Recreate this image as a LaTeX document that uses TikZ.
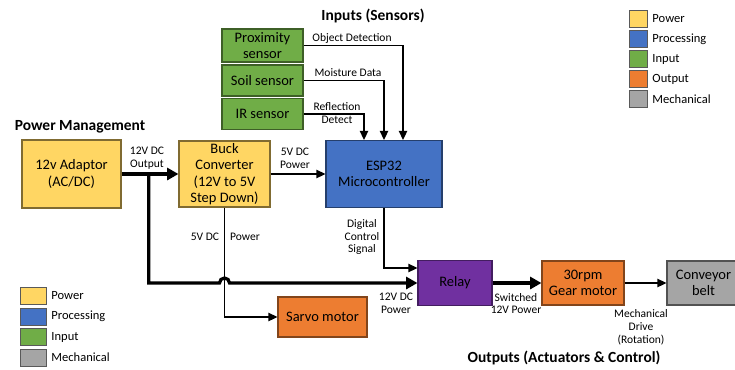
\documentclass[tikz,border=0pt]{standalone}
\usepackage{fontspec}
\setmainfont{Carlito}
\usetikzlibrary{arrows.meta,positioning,calc}

\definecolor{pwrcol}{HTML}{FFD663}
\definecolor{proccol}{HTML}{4472C4}
\definecolor{incol}{HTML}{70AD47}
\definecolor{outcol}{HTML}{ED7D31}
\definecolor{mechcol}{HTML}{A5A5A5}
\definecolor{relaycol}{HTML}{7030A0}

\begin{document}
\begin{tikzpicture}[
    x=0.025cm, y=-0.025cm,
    box/.style={draw, line width=0.8pt, align=center, inner sep=1pt, font=\fontsize{10.3}{11.6}\selectfont},
    power/.style={box, fill=pwrcol, draw=pwrcol!50!black},
    proc/.style={box, fill=proccol, draw=proccol!55!black},
    sensor/.style={box, fill=incol, draw=incol!55!black},
    actuator/.style={box, fill=outcol, draw=outcol!55!black},
    mech/.style={box, fill=mechcol, draw=mechcol!50!black},
    relaybox/.style={box, fill=relaycol, draw=relaycol!60!black},
    arrow/.style={-{Triangle[length=6.5pt, width=6pt]}, line width=1.1pt},
    bigarrow/.style={-{Triangle[length=8pt, width=8.5pt]}, line width=2.3pt},
    lbl/.style={align=center, inner sep=0pt, font=\fontsize{8.2}{9.2}\selectfont},
    heading/.style={inner sep=0pt, font=\fontsize{11}{13}\selectfont\bfseries},
    key/.style={draw=black!65, line width=0.7pt, minimum height=0.425cm, inner sep=0pt,
        label={[font=\fontsize{8.9}{10}\selectfont]right:#1}}
]
\useasboundingbox (0,0) rectangle (735,369);

% Headings
\node[heading] (hin) at (373,16) {Inputs (Sensors)};
\node[heading] (hpwr) at (80,127) {Power Management};
\node[heading] (hout) at (564,358) {Outputs (Actuators \& Control)};

% Sensors
\node[sensor, minimum width=2.025cm, minimum height=0.825cm] (prox) at (262.5,45.5) {Proximity\\sensor};
\node[sensor, minimum width=2.025cm, minimum height=0.775cm] (soil) at (262.5,80.5) {Soil sensor};
\node[sensor, minimum width=2.025cm, minimum height=0.775cm] (ir) at (262.5,114) {IR sensor};

% Power and processing
\node[power, minimum width=2.475cm, minimum height=1.7cm] (adaptor) at (71.5,174) {12v Adaptor\\(AC/DC)};
\node[power, minimum width=2.275cm, minimum height=1.65cm] (buck) at (224.5,174) {Buck\\Converter\\(12V to 5V\\Step Down)};
\node[proc, minimum width=2.9cm, minimum height=1.675cm] (esp) at (384,174) {ESP32\\Microcontroller};

% Outputs
\node[relaybox, minimum width=1.85cm, minimum height=1.125cm] (relay) at (455,283) {Relay};
\node[actuator, minimum width=2.225cm, minimum height=1cm] (servo) at (322.5,317) {Sarvo motor};
\node[actuator, minimum width=2.05cm, minimum height=1.1cm] (gear) at (583,283) {30rpm\\Gear motor};
\node[mech, minimum width=1.825cm, minimum height=1.1cm] (conv) at (703.5,283) {Conveyor\\belt};

% Sensor signals
\draw[arrow] (prox.east) -| ([xshift=0.475cm]esp.north);
\draw[arrow] (soil.east) -| (esp.north);
\draw[arrow] (ir.east) -| ([xshift=-0.5cm]esp.north);
\node[lbl] at (352,38) {Object Detection};
\node[lbl] at (348,73) {Moisture Data};
\node[lbl] at (337,113.5) {Reflection\\Detect};

% Power lines
\coordinate (jn) at ($(adaptor.east)!0.48!(buck.west)$);
\coordinate (hop) at (buck.south |- relay.west);
\draw[bigarrow] (adaptor.east) -- (buck.west);
\draw[bigarrow] (jn) |- ([xshift=-0.125cm]hop) arc[start angle=180, end angle=0, radius=0.125cm] -- (relay.west);
\draw[arrow] (buck.east) -- (esp.west);
\draw[arrow] (buck.south) |- (servo.west);
\node[lbl] at (147,158.5) {12V DC\\Output};
\node[lbl] at (295,158) {5V DC\\Power};
\node[lbl] at (205,237) {5V DC};
\node[lbl] at (245,237) {Power};
\node[lbl] at (396,303) {12V DC\\Power};

% Control and drive
\draw[arrow] (esp.south) |- ([yshift=0.375cm]relay.west);
\draw[bigarrow] (relay.east) -- (gear.west);
\draw[arrow] (gear.east) -- (conv.west);
\node[lbl] at (362,237) {Digital\\Control\\Signal};
\node[lbl] at (516,303.5) {Switched\\12V Power};
\node[lbl] at (641,327) {Mechanical\\Drive\\(Rotation)};

% Legend (top right)
\node[key=Power, fill=pwrcol, minimum width=0.45cm] at (638,19) {};
\node[key=Processing, fill=proccol, minimum width=0.45cm] at (638,39) {};
\node[key=Input, fill=incol, minimum width=0.45cm] at (638,59) {};
\node[key=Output, fill=outcol, minimum width=0.45cm] at (638,79) {};
\node[key=Mechanical, fill=mechcol, minimum width=0.45cm] at (638,99) {};

% Legend (bottom left)
\node[key=Power, fill=pwrcol, minimum width=0.65cm] at (33,296) {};
\node[key=Processing, fill=proccol, minimum width=0.65cm] at (33,316.5) {};
\node[key=Input, fill=incol, minimum width=0.65cm] at (33,337) {};
\node[key=Mechanical, fill=mechcol, minimum width=0.65cm] at (33,357.5) {};
\end{tikzpicture}
\end{document}
